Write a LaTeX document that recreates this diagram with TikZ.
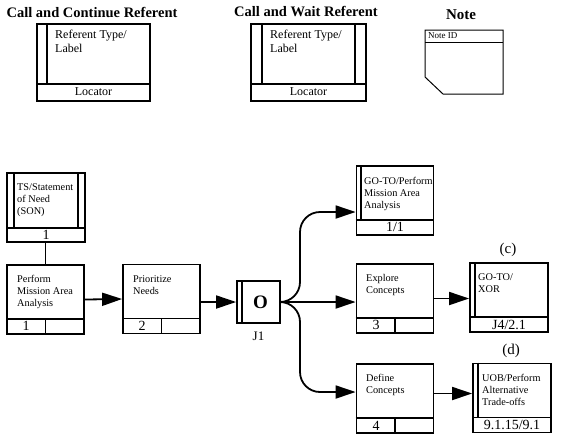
\documentclass[tikz,border=0pt]{standalone}
\usepackage{fontspec}
\setmainfont{Liberation Serif}
\usetikzlibrary{arrows.meta,calc}
\def\boxstrip(#1:#2){\draw[fline] ([yshift=#2]#1.south west) -- ([yshift=#2]#1.south east);}
\def\boxside(#1:#2:#3:#4){\draw[fline] ([xshift=#3]#1.north #2) -- ([xshift=#3,yshift=#4]#1.south #2);}
\def\boxsplit(#1){\draw[fline] ([yshift=16pt]#1.south) -- (#1.south);}
\tikzset{
  fline/.style={line width=1.8pt},
  fbox/.style={draw, fline, minimum width=77pt, minimum height=69pt, inner sep=0pt},
  arr/.style={fline, -{Triangle[length=20pt,width=13pt]}},
  btxt/.style={anchor=north west, align=left, inner sep=0pt, font=\fontsize{10.3}{12}\selectfont},
  ttxt/.style={anchor=north west, align=left, inner sep=0pt, font=\fontsize{12}{14}\selectfont},
  num/.style={inner sep=0pt, font=\fontsize{14}{14}\selectfont},
  ttl/.style={inner sep=0pt, font=\fontsize{14.5}{15}\selectfont\bfseries},
}
\begin{document}
\begin{tikzpicture}[x=1pt, y=-1pt]
	\useasboundingbox (0,0) rectangle (561,445);
	
	%%%%% LEGEND %%%%%
	\node[ttl] (cctitle) at (92,12) {Call and Continue Referent};
	\node[fbox, minimum width=113pt, minimum height=77pt] (cc) at (93.5,62.5) {};
	\boxstrip(cc:18pt)
	\boxside(cc:west:11pt:18pt)
	\node[ttxt] (cctext) at (55,30) {Referent Type/\\Label};
	\node[num, font=\fontsize{12}{12}\selectfont] (ccloc) at (93.5,92) {Locator};
	
	\node[ttl] (cwtitle) at (306,12) {Call and Wait Referent};
	\node[fbox, minimum width=115pt, minimum height=77pt] (cw) at (308.5,62.5) {};
	\boxstrip(cw:18pt)
	\boxside(cw:west:12pt:18pt)
	\boxside(cw:east:-12pt:18pt)
	\node[ttxt] (cwtext) at (270,30) {Referent Type/\\Label};
	\node[num, font=\fontsize{12}{12}\selectfont] (cwloc) at (308.5,92) {Locator};
	
	\node[ttl, font=\fontsize{15}{15}\selectfont\bfseries] (notetitle) at (461,15) {Note};
	\draw[line width=1pt] (425,30) -- (503,30) -- (503,94) -- (443,94) -- (425,77) -- cycle;
	\draw[line width=1pt] (425,42) -- (503,42);
	\node[inner sep=0pt, anchor=west, font=\fontsize{9}{9}\selectfont] (noteid) at (428,36) {Note ID};
	
	%%%%% DIAGRAM %%%%%
	\node[fbox, minimum width=78pt] (son) at (46,207.5) {};
	\boxstrip(son:15pt)
	\boxside(son:west:8pt:15pt)
	\boxside(son:east:-8pt:15pt)
	\node[btxt] at (17,183) {TS/Statement\\of Need\\(SON)};
	\node[num] at (46,235) {1};
	
	\node[fbox] (perf) at (45.5,299.5) {};
	\boxstrip(perf:16pt)
	\boxsplit(perf)
	\node[btxt] at (17,275) {Perform\\Mission Area\\Analysis};
	\node[num] at (26,326) {1};
	
	\node[fbox] (prio) at (161.5,299) {};
	\boxstrip(prio:16pt)
	\boxsplit(prio)
	\node[btxt] at (133,275) {Prioritize\\Needs};
	\node[num] at (142,326) {2};
	
	\node[draw, fline, minimum width=43pt, minimum height=42pt, inner sep=0pt,
		font=\fontsize{19}{19}\selectfont\bfseries] (J1) at (258.5,302) {\hspace{4pt}O};
	\draw[fline] ([xshift=6pt]J1.north west) -- ([xshift=6pt]J1.south west);
	\node[num, font=\fontsize{13}{13}\selectfont] (J1lbl) at (258.5,336) {J1};
	
	\node[fbox] (goto1) at (395,200.5) {};
	\boxstrip(goto1:16pt)
	\boxside(goto1:west:5pt:16pt)
	\node[btxt] at (364,177) {GO-TO/Perform\\Mission Area\\Analysis};
	\node[num] at (395,227) {1/1};
	
	\node[fbox] (expl) at (395,298.5) {};
	\boxstrip(expl:16pt)
	\boxsplit(expl)
	\node[btxt] at (366,274) {Explore\\Concepts};
	\node[num] at (376,325) {3};
	
	\node[fbox, minimum width=78pt] (xor) at (509,297.5) {};
	\boxstrip(xor:16pt)
	\boxside(xor:west:6pt:16pt)
	\node[btxt] at (478,273) {GO-TO/\\XOR};
	\node[num] at (509,325) {J4/2.1};
	\node[num, font=\fontsize{15}{15}\selectfont] (ctag) at (508,250) {(c)};
	
	\node[fbox] (defn) at (395,398.5) {};
	\boxstrip(defn:16pt)
	\boxsplit(defn)
	\node[btxt] at (366,374) {Define\\Concepts};
	\node[num] at (376,426) {4};
	
	\node[fbox, minimum width=78pt] (uob) at (512,398) {};
	\boxstrip(uob:16pt)
	\boxside(uob:west:6pt:16pt)
	\node[btxt] at (482,374) {UOB/Perform\\Alternative\\Trade-offs};
	\node[num] at (512,425) {9.1.15/9.1};
	\node[num, font=\fontsize{15}{15}\selectfont] (dtag) at (511,351) {(d)};
	
	%%%%% CONNECTORS %%%%%
	\draw[fline] (perf.north |- son.south) -- (perf.north);
	\draw[arr] (perf.east) -- (prio.west);
	\draw[arr] (prio.east |- J1.west) -- (J1.west);
	\draw[arr, rounded corners=20pt] (J1.east) -- (300,302) -- (300,212) -- ([yshift=-11.5pt]goto1.west);
	\draw[arr] (J1.east) -- (J1.east -| expl.west);
	\draw[arr, rounded corners=20pt] (J1.east) -- (300,302) -- (300,392) -- ([yshift=6.5pt]defn.west);
	\draw[arr] (expl.east) -- (expl.east -| xor.west);
	\draw[arr] ([yshift=5pt]defn.east) -- ([yshift=5pt]defn.east -| uob.west);
\end{tikzpicture}
\end{document}
